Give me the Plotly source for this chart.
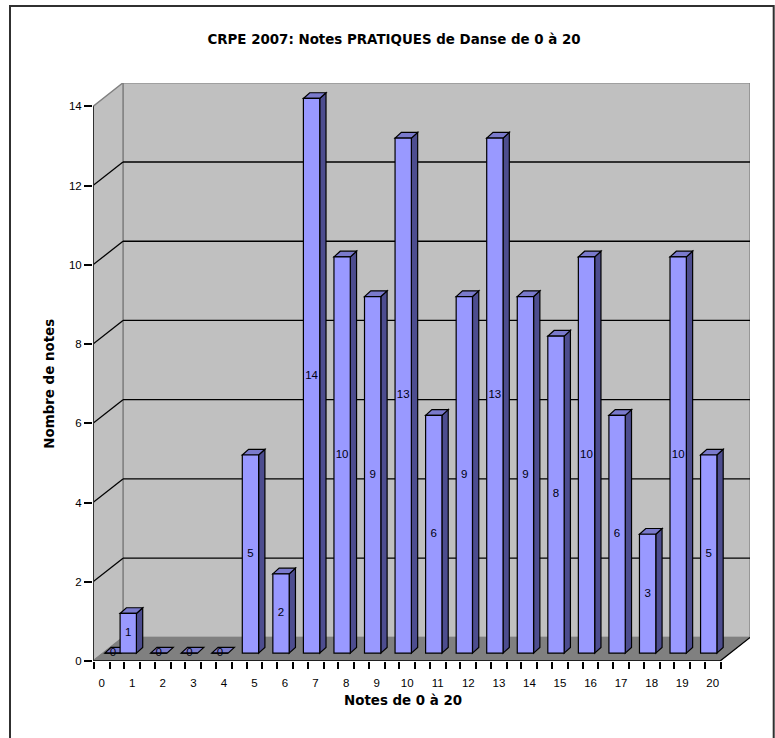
import plotly.graph_objects as go

# ---- data ----
notes = list(range(21))
counts = [0, 1, 0, 0, 0, 5, 2, 14, 10, 9, 13, 6, 9, 13, 9, 8, 10, 6, 3, 10, 5]
y_ticks = [0, 2, 4, 6, 8, 10, 12, 14]
title = "CRPE 2007: Notes PRATIQUES de Danse de 0 à 20"
x_title = "Notes de 0 à 20"
y_title = "Nombre de notes"

# ---- styling / geometry ----
W, H = 775, 738
ML, MR, MT, MB = 93, 25, 83, 77.3
XMIN, XMAX = -0.285, 21.22
YMAX = 14.59
AXIS_END = 20.24      # end of front floor edge, in axis units
WALL_DX, WALL_DY = 0.982, 0.596   # wall depth, in axis units
BAR_W = 0.534
BAR_DX, BAR_DY = 0.206, 0.144     # bar depth
BAR_BASE = 0.2
BAR_SHIFT = -0.131
FIRST_BAR_EXTRA = 0.5             # the bar for note 0 sits half a slot to the right
WALL = "#C0C0C0"
FLOOR = "#808080"
FRONT = "#9999FF"
SIDE = "#4D4D8F"
TOP = "#7A7ACC"
FONT = "Liberation Sans"
TITLE_FONT = "DejaVu Sans"
TITLE_SIZE = 13.4

PW = W - ML - MR
PH = H - MT - MB


def px(x):
    return (x - ML) / PW


def py(y):
    return (H - MB - y) / PH


def poly(pts, fill=None, line="black", width=1.2):
    d = "M" + " L".join(f"{a:.4f} {b:.4f}" for a, b in pts) + " Z"
    return dict(type="path", path=d, xref="x", yref="y", layer="below",
                fillcolor=fill if fill else "rgba(0,0,0,0)",
                line=dict(color=line, width=width))


def seg(x0, y0, x1, y1, color="black", width=1.3):
    return dict(type="line", x0=x0, y0=y0, x1=x1, y1=y1, xref="x", yref="y",
                layer="below", line=dict(color=color, width=width))


shapes = []
xb = XMIN + WALL_DX
xr = AXIS_END + WALL_DX
top_v = max(y_ticks)
# walls and floor
shapes.append(poly([(xb, WALL_DY), (xr, WALL_DY), (xr, top_v + WALL_DY), (xb, top_v + WALL_DY)], WALL, FLOOR, 1.4))
shapes.append(poly([(XMIN, 0), (xb, WALL_DY), (xb, top_v + WALL_DY), (XMIN, top_v)], WALL, FLOOR, 1.4))
shapes.append(poly([(XMIN, 0), (AXIS_END, 0), (xr, WALL_DY), (xb, WALL_DY)], FLOOR, FLOOR, 1))
# gridlines
for t in y_ticks[1:-1]:
    shapes.append(seg(XMIN, t, xb, t + WALL_DY))
    shapes.append(seg(xb, t + WALL_DY, xr, t + WALL_DY))
shapes.append(seg(AXIS_END, 0, xr, WALL_DY))
# axis lines
shapes.append(seg(XMIN, 0, XMIN, top_v, "#303030", 2))
shapes.append(seg(XMIN, 0, AXIS_END, 0, "#202020", 2))

# bar positions, side faces, top faces
positions = [n + BAR_SHIFT for n in notes]
positions[0] += FIRST_BAR_EXTRA
for c, v in zip(positions, counts):
    l, r = c - BAR_W / 2, c + BAR_W / 2
    b, t = BAR_BASE, BAR_BASE + v
    if v > 0:
        shapes.append(poly([(r, b), (r + BAR_DX, b + BAR_DY), (r + BAR_DX, t + BAR_DY), (r, t)], SIDE))
    shapes.append(poly([(l, t), (r, t), (r + BAR_DX, t + BAR_DY), (l + BAR_DX, t + BAR_DY)], TOP))

# frame round the chart (open at the bottom of the picture)
shapes.append(dict(type="path", xref="paper", yref="paper",
                   path=f"M{px(10):.5f} {py(H):.5f} L{px(10):.5f} {py(6):.5f} "
                        f"L{px(773.7):.5f} {py(6):.5f} L{px(773.7):.5f} {py(H):.5f}",
                   line=dict(color="#303030", width=2)))

fig = go.Figure()
fig.add_trace(go.Bar(x=positions, y=counts, base=BAR_BASE, width=BAR_W,
                     marker=dict(color=FRONT, line=dict(color="black", width=1.2)),
                     showlegend=False, hoverinfo="x+y"))
fig.add_trace(go.Scatter(x=positions, y=[BAR_BASE + v / 2 for v in counts],
                         text=[str(v) for v in counts], mode="text",
                         textposition="middle center",
                         textfont=dict(family=FONT, size=11.5, color="#000010"),
                         showlegend=False, hoverinfo="skip"))
# invisible trace on the overlay axis so that the category labels are drawn
fig.add_trace(go.Scatter(x=notes, y=[0] * len(notes), xaxis="x2", mode="markers",
                         marker=dict(opacity=0), showlegend=False, hoverinfo="skip"))

tick_pairs = []
for n in notes:
    tick_pairs += [n - 0.26, n + 0.26]

fig.update_layout(
    width=W, height=H, autosize=False,
    margin=dict(l=ML, r=MR, t=MT, b=MB, pad=0),
    paper_bgcolor="white", plot_bgcolor="rgba(0,0,0,0)",
    barmode="overlay", showlegend=False,
    title=dict(text=f"<b>{title}</b>", xref="container", yref="container",
               x=394 / W, y=1 - 39 / H, xanchor="center", yanchor="middle",
               font=dict(family=TITLE_FONT, size=TITLE_SIZE, color="black")),
    xaxis=dict(range=[XMIN, XMAX], tickmode="array", tickvals=tick_pairs, ticktext=[""] * len(tick_pairs),
               ticks="outside", ticklen=7, tickwidth=1.5, tickcolor="black",
               showgrid=False, zeroline=False, showline=False),
    xaxis2=dict(range=[XMIN, XMAX], overlaying="x", anchor="y", side="bottom",
                tickmode="array", tickvals=notes, ticktext=[str(n) for n in notes],
                ticks="outside", ticklen=11, tickwidth=0, tickcolor="rgba(0,0,0,0)",
                tickfont=dict(family=FONT, size=11.5, color="black"),
                showgrid=False, zeroline=False, showline=False),
    yaxis=dict(range=[0, YMAX], tickmode="array", tickvals=y_ticks, ticktext=[str(t) for t in y_ticks],
               ticks="outside", ticklen=8, tickwidth=1.5, tickcolor="black",
               tickfont=dict(family=FONT, size=11.5, color="black"),
               showgrid=False, zeroline=False, showline=False),
    shapes=shapes,
    annotations=[
        dict(text=f"<b>{y_title}</b>", xref="paper", yref="y", x=px(50), y=7.0,
             textangle=-90, showarrow=False, xanchor="center", yanchor="middle",
             font=dict(family=TITLE_FONT, size=TITLE_SIZE, color="black")),
        dict(text=f"<b>{x_title}</b>", xref="paper", yref="paper", x=px(403), y=py(700),
             showarrow=False, xanchor="center", yanchor="middle",
             font=dict(family=TITLE_FONT, size=TITLE_SIZE, color="black")),
    ],
)

fig.write_html("out.html", config=dict(displayModeBar=False),
               post_script="document.body.style.margin='0';document.body.style.overflow='hidden';")
